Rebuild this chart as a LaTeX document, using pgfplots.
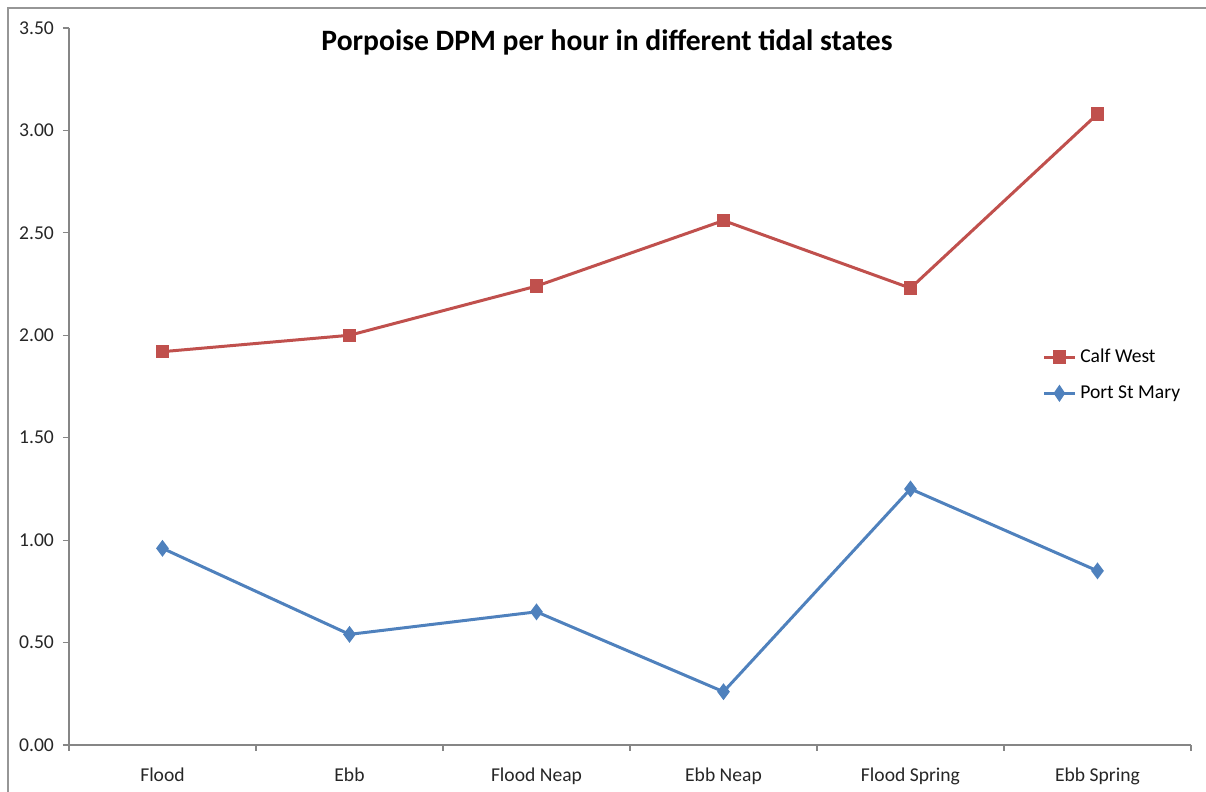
\documentclass[border=0pt]{standalone}
\usepackage{pgfplots}
\pgfplotsset{compat=1.18}
\usepackage{fontspec}
\setmainfont{Carlito}
\definecolor{calfred}{RGB}{192,80,77}
\definecolor{psmblue}{RGB}{79,129,189}
\definecolor{axisgray}{RGB}{134,134,134}
\definecolor{framegray}{RGB}{150,150,150}
\begin{document}
\begin{tikzpicture}
\useasboundingbox (-34.5pt,-23.5pt) rectangle (568.5pt,372.5pt);
\draw[framegray, line width=0.6pt] (-30.5pt,-23.5pt) -- (-30.5pt,368.5pt) -- (568.5pt,368.5pt);
\begin{axis}[
  scale only axis,
  width=561pt, height=358.5pt,
  xmin=-0.5, xmax=5.5,
  ymin=0, ymax=3.5,
  axis lines=left,
  axis line style={axisgray, line width=0.6pt, -},
  xtick={0,1,2,3,4,5},
  xticklabels={Flood, Ebb, Flood Neap, Ebb Neap, Flood Spring, Ebb Spring},
  minor xtick={-0.5,0.5,1.5,2.5,3.5,4.5,5.5},
  major x tick style={draw=none},
  minor x tick style={axisgray, line width=0.6pt},
  minor tick length=3pt,
  ytick={0,0.5,1,1.5,2,2.5,3,3.5},
  y tick style={axisgray, line width=0.6pt},
  major tick length=3pt,
  tick align=outside,
  tick pos=left,
  yticklabel style={/pgf/number format/fixed, /pgf/number format/fixed zerofill,
    /pgf/number format/precision=2, /pgf/number format/assume math mode=true, xshift=-1pt},
  ticklabel style={font=\fontsize{9.8}{11}\selectfont, text=black!85},
  xticklabel style={yshift=-5pt},
  legend style={draw=none, fill=none, font=\fontsize{9.8}{11}\selectfont,
    at={(0.862,0.516)}, anchor=west, row sep=6pt,
    /tikz/every even column/.append style={column sep=0pt}},
  legend image post style={xscale=0.9},
  legend cell align=left,
  clip=false,
]
\addplot[calfred, line width=1.5pt, mark=square*, mark size=2.6pt] coordinates {
  (0,1.92) (1,2.00) (2,2.24) (3,2.56) (4,2.23) (5,3.08)
};
\addlegendentry{Calf West}
\addplot[psmblue, line width=1.5pt, mark=diamond*, mark size=3pt] coordinates {
  (0,0.96) (1,0.54) (2,0.65) (3,0.26) (4,1.25) (5,0.85)
};
\addlegendentry{Port St Mary}
\node[font=\fontsize{14.8}{17}\selectfont\bfseries] at (rel axis cs:0.4795,0.980) {Porpoise DPM per hour in different tidal states};
\end{axis}
\end{tikzpicture}
\end{document}
